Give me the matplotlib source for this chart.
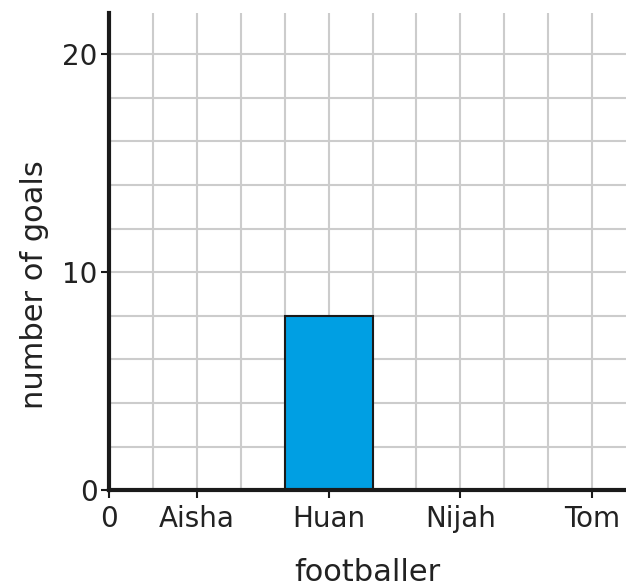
import matplotlib.pyplot as plt

# data
players = ["Aisha", "Huan", "Nijah", "Tom"]
goals = [0, 8, 0, 0]
positions = [2, 5, 8, 11]   # in grid squares from the origin

plt.rcParams['font.family'] = ['DejaVu Sans']

fig = plt.figure(figsize=(6.26, 5.87), dpi=100)
ax = fig.add_axes([0.174, 0.165, 0.826, 0.813])

ax.bar(positions, goals, width=2, color="#009fe3", edgecolor="#1a1a1a",
       linewidth=1.5, zorder=3)

ax.set_xlim(0, 11.77)
ax.set_ylim(0, 21.9)

# square grid, one line every grid unit / 2 goals
ax.set_xticks(range(0, 12), minor=True)
ax.set_yticks(range(0, 22, 2), minor=True)
ax.grid(which="both", color="#cccccc", linewidth=1.5, zorder=0)
ax.tick_params(which="minor", length=0)

ax.set_xticks([0] + positions)
ax.set_xticklabels(["0"] + players)
ax.set_yticks([0, 10, 20])
ax.tick_params(which="major", length=6, width=1.5, color="#1a1a1a",
               labelsize=20, labelcolor="#222222")
ax.tick_params(axis="x", which="major", pad=5)
ax.tick_params(axis="y", which="major", pad=2)

for side in ["top", "right"]:
    ax.spines[side].set_visible(False)
for side in ["left", "bottom"]:
    ax.spines[side].set_linewidth(3)
    ax.spines[side].set_color("#1a1a1a")
    ax.spines[side].set_zorder(4)

ax.set_xlabel("footballer", fontsize=22, color="#222222", labelpad=18)
ax.set_ylabel("number of goals", fontsize=22, color="#222222")
ax.yaxis.set_label_coords(-0.115, 0.43)

fig.savefig("out.png", dpi=100)
